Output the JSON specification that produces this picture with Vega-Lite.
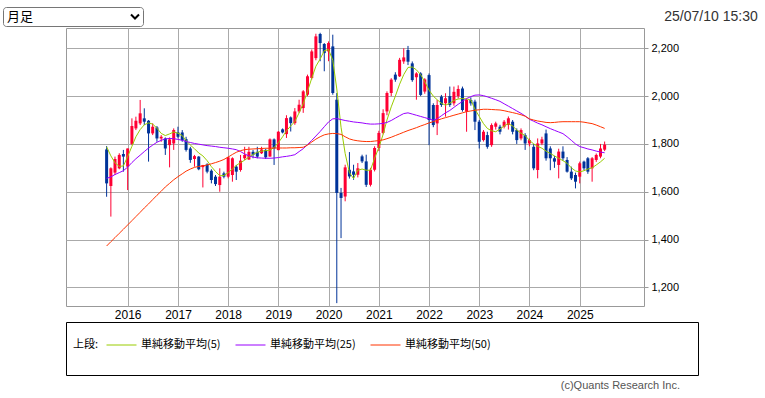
{
"$schema": "https://vega.github.io/schema/vega-lite/v6.json",
"padding": {"left": 2, "top": 6, "right": 0, "bottom": 0},
"background": "white",
"config": {"font": "Liberation Sans", "view": {"stroke": null}},
"datasets": {"px": [
{"d":"2015-08-01","o":1777,"h":1791,"l":1579,"c":1635,"m5":1788,"m25":1656,"m50":1373},
{"d":"2015-09-01","o":1624,"h":1702,"l":1496,"c":1698,"m5":1750,"m25":1662,"m50":1391},
{"d":"2015-10-01","o":1680,"h":1747,"l":1670,"c":1737,"m5":1721,"m25":1672,"m50":1408},
{"d":"2015-11-01","o":1698,"h":1761,"l":1694,"c":1754,"m5":1706,"m25":1680,"m50":1426},
{"d":"2015-12-01","o":1758,"h":1775,"l":1684,"c":1747,"m5":1708,"m25":1688,"m50":1443},
{"d":"2016-01-01","o":1705,"h":1781,"l":1607,"c":1781,"m5":1747,"m25":1703,"m50":1461},
{"d":"2016-02-01","o":1800,"h":1907,"l":1795,"c":1875,"m5":1790,"m25":1722,"m50":1479},
{"d":"2016-03-01","o":1865,"h":1914,"l":1858,"c":1897,"m5":1830,"m25":1738,"m50":1496},
{"d":"2016-04-01","o":1886,"h":1984,"l":1879,"c":1928,"m5":1860,"m25":1753,"m50":1514},
{"d":"2016-05-01","o":1907,"h":1949,"l":1879,"c":1893,"m5":1880,"m25":1768,"m50":1532},
{"d":"2016-06-01","o":1897,"h":1900,"l":1726,"c":1844,"m5":1888,"m25":1783,"m50":1549},
{"d":"2016-07-01","o":1844,"h":1886,"l":1837,"c":1872,"m5":1883,"m25":1795,"m50":1567},
{"d":"2016-08-01","o":1869,"h":1875,"l":1809,"c":1823,"m5":1866,"m25":1807,"m50":1585},
{"d":"2016-09-01","o":1823,"h":1837,"l":1809,"c":1830,"m5":1844,"m25":1815,"m50":1602},
{"d":"2016-10-01","o":1823,"h":1827,"l":1754,"c":1781,"m5":1835,"m25":1821,"m50":1620},
{"d":"2016-11-01","o":1795,"h":1827,"l":1702,"c":1819,"m5":1842,"m25":1823,"m50":1635},
{"d":"2016-12-01","o":1802,"h":1865,"l":1775,"c":1858,"m5":1850,"m25":1822,"m50":1650},
{"d":"2017-01-01","o":1848,"h":1872,"l":1823,"c":1830,"m5":1845,"m25":1819,"m50":1663},
{"d":"2017-02-01","o":1848,"h":1858,"l":1809,"c":1816,"m5":1835,"m25":1815,"m50":1675},
{"d":"2017-03-01","o":1820,"h":1830,"l":1768,"c":1775,"m5":1815,"m25":1810,"m50":1686},
{"d":"2017-04-01","o":1781,"h":1788,"l":1721,"c":1733,"m5":1795,"m25":1806,"m50":1695},
{"d":"2017-05-01","o":1737,"h":1754,"l":1705,"c":1749,"m5":1780,"m25":1802,"m50":1702},
{"d":"2017-06-01","o":1747,"h":1749,"l":1690,"c":1694,"m5":1762,"m25":1799,"m50":1706},
{"d":"2017-07-01","o":1703,"h":1712,"l":1618,"c":1712,"m5":1750,"m25":1796,"m50":1708},
{"d":"2017-08-01","o":1714,"h":1719,"l":1677,"c":1684,"m5":1730,"m25":1793,"m50":1712},
{"d":"2017-09-01","o":1688,"h":1694,"l":1635,"c":1649,"m5":1705,"m25":1791,"m50":1717},
{"d":"2017-10-01","o":1663,"h":1670,"l":1624,"c":1632,"m5":1685,"m25":1789,"m50":1722},
{"d":"2017-11-01","o":1628,"h":1698,"l":1600,"c":1663,"m5":1667,"m25":1786,"m50":1728},
{"d":"2017-12-01","o":1677,"h":1684,"l":1656,"c":1663,"m5":1668,"m25":1784,"m50":1735},
{"d":"2018-01-01","o":1663,"h":1747,"l":1656,"c":1744,"m5":1680,"m25":1782,"m50":1745},
{"d":"2018-02-01","o":1670,"h":1744,"l":1642,"c":1740,"m5":1695,"m25":1779,"m50":1756},
{"d":"2018-03-01","o":1705,"h":1712,"l":1649,"c":1684,"m5":1710,"m25":1776,"m50":1765},
{"d":"2018-04-01","o":1691,"h":1754,"l":1684,"c":1730,"m5":1722,"m25":1768,"m50":1772},
{"d":"2018-05-01","o":1740,"h":1788,"l":1733,"c":1754,"m5":1732,"m25":1758,"m50":1776},
{"d":"2018-06-01","o":1735,"h":1788,"l":1733,"c":1767,"m5":1745,"m25":1750,"m50":1778},
{"d":"2018-07-01","o":1767,"h":1775,"l":1740,"c":1754,"m5":1756,"m25":1745,"m50":1779},
{"d":"2018-08-01","o":1767,"h":1788,"l":1740,"c":1747,"m5":1765,"m25":1742,"m50":1780},
{"d":"2018-09-01","o":1761,"h":1788,"l":1758,"c":1777,"m5":1770,"m25":1741,"m50":1781},
{"d":"2018-10-01","o":1775,"h":1780,"l":1737,"c":1744,"m5":1772,"m25":1740,"m50":1782},
{"d":"2018-11-01","o":1747,"h":1823,"l":1747,"c":1819,"m5":1774,"m25":1740,"m50":1782},
{"d":"2018-12-01","o":1819,"h":1823,"l":1712,"c":1781,"m5":1785,"m25":1741,"m50":1783},
{"d":"2019-01-01","o":1774,"h":1854,"l":1774,"c":1851,"m5":1805,"m25":1743,"m50":1783},
{"d":"2019-02-01","o":1861,"h":1865,"l":1844,"c":1848,"m5":1830,"m25":1746,"m50":1783},
{"d":"2019-03-01","o":1841,"h":1920,"l":1825,"c":1908,"m5":1855,"m25":1748,"m50":1783},
{"d":"2019-04-01","o":1911,"h":1915,"l":1852,"c":1887,"m5":1875,"m25":1751,"m50":1784},
{"d":"2019-05-01","o":1887,"h":1950,"l":1880,"c":1936,"m5":1894,"m25":1755,"m50":1784},
{"d":"2019-06-01","o":1936,"h":1985,"l":1929,"c":1964,"m5":1930,"m25":1768,"m50":1785},
{"d":"2019-07-01","o":1950,"h":2025,"l":1930,"c":2020,"m5":1968,"m25":1780,"m50":1786},
{"d":"2019-08-01","o":2006,"h":2090,"l":2000,"c":2083,"m5":2020,"m25":1797,"m50":1795},
{"d":"2019-09-01","o":2076,"h":2195,"l":2070,"c":2187,"m5":2075,"m25":1815,"m50":1808},
{"d":"2019-10-01","o":2159,"h":2261,"l":2150,"c":2250,"m5":2125,"m25":1833,"m50":1820},
{"d":"2019-11-01","o":2260,"h":2265,"l":2146,"c":2222,"m5":2155,"m25":1852,"m50":1830},
{"d":"2019-12-01","o":2218,"h":2222,"l":2104,"c":2180,"m5":2190,"m25":1872,"m50":1838},
{"d":"2020-01-01","o":2187,"h":2229,"l":2146,"c":2222,"m5":2195,"m25":1892,"m50":1842},
{"d":"2020-02-01","o":2208,"h":2257,"l":2006,"c":2013,"m5":2150,"m25":1905,"m50":1844},
{"d":"2020-03-01","o":1985,"h":2013,"l":1134,"c":1595,"m5":2030,"m25":1906,"m50":1843},
{"d":"2020-04-01","o":1595,"h":1616,"l":1406,"c":1574,"m5":1870,"m25":1902,"m50":1840},
{"d":"2020-05-01","o":1580,"h":1713,"l":1560,"c":1702,"m5":1760,"m25":1898,"m50":1830},
{"d":"2020-06-01","o":1692,"h":1766,"l":1655,"c":1664,"m5":1680,"m25":1895,"m50":1821},
{"d":"2020-07-01","o":1685,"h":1713,"l":1650,"c":1671,"m5":1655,"m25":1892,"m50":1816},
{"d":"2020-08-01","o":1671,"h":1720,"l":1660,"c":1698,"m5":1690,"m25":1890,"m50":1813},
{"d":"2020-09-01","o":1748,"h":1755,"l":1720,"c":1727,"m5":1695,"m25":1888,"m50":1811},
{"d":"2020-10-01","o":1727,"h":1755,"l":1620,"c":1629,"m5":1690,"m25":1885,"m50":1810},
{"d":"2020-11-01","o":1629,"h":1700,"l":1622,"c":1692,"m5":1690,"m25":1883,"m50":1810},
{"d":"2020-12-01","o":1692,"h":1790,"l":1685,"c":1783,"m5":1740,"m25":1883,"m50":1812},
{"d":"2021-01-01","o":1783,"h":1855,"l":1770,"c":1846,"m5":1785,"m25":1884,"m50":1814},
{"d":"2021-02-01","o":1846,"h":1945,"l":1840,"c":1929,"m5":1840,"m25":1886,"m50":1817},
{"d":"2021-03-01","o":1936,"h":2020,"l":1920,"c":2013,"m5":1900,"m25":1890,"m50":1822},
{"d":"2021-04-01","o":2013,"h":2075,"l":2000,"c":2069,"m5":1955,"m25":1898,"m50":1828},
{"d":"2021-05-01","o":2090,"h":2100,"l":2060,"c":2069,"m5":2000,"m25":1908,"m50":1835},
{"d":"2021-06-01","o":2083,"h":2160,"l":2080,"c":2152,"m5":2050,"m25":1918,"m50":1842},
{"d":"2021-07-01","o":2145,"h":2200,"l":2135,"c":2162,"m5":2090,"m25":1927,"m50":1849},
{"d":"2021-08-01","o":2193,"h":2210,"l":2130,"c":2144,"m5":2120,"m25":1930,"m50":1856},
{"d":"2021-09-01","o":2137,"h":2145,"l":2060,"c":2067,"m5":2122,"m25":1925,"m50":1862},
{"d":"2021-10-01","o":2079,"h":2100,"l":1985,"c":2095,"m5":2110,"m25":1920,"m50":1868},
{"d":"2021-11-01","o":2095,"h":2100,"l":2000,"c":2005,"m5":2090,"m25":1915,"m50":1875},
{"d":"2021-12-01","o":2019,"h":2075,"l":2010,"c":2070,"m5":2060,"m25":1910,"m50":1881},
{"d":"2022-01-01","o":2088,"h":2095,"l":1795,"c":1900,"m5":2025,"m25":1905,"m50":1888},
{"d":"2022-02-01","o":1963,"h":1970,"l":1870,"c":1879,"m5":2000,"m25":1899,"m50":1893},
{"d":"2022-03-01","o":1886,"h":1984,"l":1837,"c":1963,"m5":1985,"m25":1905,"m50":1899},
{"d":"2022-04-01","o":1998,"h":2005,"l":1955,"c":1963,"m5":1970,"m25":1918,"m50":1905},
{"d":"2022-05-01","o":1970,"h":2012,"l":1914,"c":1991,"m5":1962,"m25":1930,"m50":1910},
{"d":"2022-06-01","o":2000,"h":2040,"l":1955,"c":1963,"m5":1970,"m25":1940,"m50":1915},
{"d":"2022-07-01","o":1970,"h":2040,"l":1960,"c":2018,"m5":1982,"m25":1953,"m50":1920},
{"d":"2022-08-01","o":2000,"h":2045,"l":1990,"c":2030,"m5":1988,"m25":1966,"m50":1925},
{"d":"2022-09-01","o":2032,"h":2040,"l":1935,"c":1942,"m5":1990,"m25":1978,"m50":1930},
{"d":"2022-10-01","o":1935,"h":1990,"l":1851,"c":1984,"m5":1988,"m25":1990,"m50":1935},
{"d":"2022-11-01","o":1984,"h":1995,"l":1960,"c":1970,"m5":1984,"m25":1998,"m50":1938},
{"d":"2022-12-01","o":1977,"h":1985,"l":1858,"c":1893,"m5":1945,"m25":2004,"m50":1941},
{"d":"2023-01-01","o":1893,"h":1900,"l":1781,"c":1809,"m5":1915,"m25":2005,"m50":1943},
{"d":"2023-02-01","o":1816,"h":1858,"l":1810,"c":1851,"m5":1885,"m25":2002,"m50":1945},
{"d":"2023-03-01","o":1837,"h":1851,"l":1780,"c":1788,"m5":1865,"m25":1997,"m50":1945},
{"d":"2023-04-01","o":1795,"h":1886,"l":1788,"c":1879,"m5":1855,"m25":1991,"m50":1944},
{"d":"2023-05-01","o":1872,"h":1893,"l":1860,"c":1886,"m5":1851,"m25":1985,"m50":1943},
{"d":"2023-06-01","o":1872,"h":1880,"l":1840,"c":1851,"m5":1862,"m25":1978,"m50":1942},
{"d":"2023-07-01","o":1872,"h":1900,"l":1865,"c":1893,"m5":1875,"m25":1968,"m50":1939},
{"d":"2023-08-01","o":1879,"h":1915,"l":1860,"c":1907,"m5":1885,"m25":1958,"m50":1935},
{"d":"2023-09-01","o":1893,"h":1900,"l":1840,"c":1851,"m5":1875,"m25":1948,"m50":1931},
{"d":"2023-10-01","o":1858,"h":1865,"l":1800,"c":1816,"m5":1858,"m25":1938,"m50":1927},
{"d":"2023-11-01","o":1823,"h":1865,"l":1815,"c":1858,"m5":1845,"m25":1928,"m50":1922},
{"d":"2023-12-01","o":1837,"h":1845,"l":1775,"c":1802,"m5":1835,"m25":1917,"m50":1916},
{"d":"2024-01-01","o":1802,"h":1823,"l":1790,"c":1816,"m5":1815,"m25":1903,"m50":1905},
{"d":"2024-02-01","o":1788,"h":1800,"l":1690,"c":1698,"m5":1800,"m25":1895,"m50":1900},
{"d":"2024-03-01","o":1691,"h":1823,"l":1656,"c":1802,"m5":1790,"m25":1887,"m50":1896},
{"d":"2024-04-01","o":1802,"h":1830,"l":1795,"c":1819,"m5":1782,"m25":1880,"m50":1893},
{"d":"2024-05-01","o":1844,"h":1860,"l":1730,"c":1740,"m5":1770,"m25":1872,"m50":1890},
{"d":"2024-06-01","o":1781,"h":1790,"l":1690,"c":1740,"m5":1760,"m25":1864,"m50":1889},
{"d":"2024-07-01","o":1740,"h":1750,"l":1700,"c":1726,"m5":1750,"m25":1857,"m50":1890},
{"d":"2024-08-01","o":1712,"h":1780,"l":1656,"c":1768,"m5":1740,"m25":1850,"m50":1892},
{"d":"2024-09-01","o":1768,"h":1790,"l":1730,"c":1740,"m5":1730,"m25":1843,"m50":1893},
{"d":"2024-10-01","o":1733,"h":1745,"l":1680,"c":1684,"m5":1719,"m25":1830,"m50":1893},
{"d":"2024-11-01","o":1684,"h":1705,"l":1649,"c":1656,"m5":1700,"m25":1815,"m50":1893},
{"d":"2024-12-01","o":1670,"h":1680,"l":1614,"c":1642,"m5":1687,"m25":1800,"m50":1893},
{"d":"2025-01-01","o":1663,"h":1726,"l":1635,"c":1719,"m5":1683,"m25":1789,"m50":1893},
{"d":"2025-02-01","o":1726,"h":1730,"l":1690,"c":1698,"m5":1688,"m25":1784,"m50":1891},
{"d":"2025-03-01","o":1740,"h":1745,"l":1675,"c":1684,"m5":1695,"m25":1779,"m50":1888},
{"d":"2025-04-01","o":1698,"h":1745,"l":1642,"c":1740,"m5":1700,"m25":1775,"m50":1885},
{"d":"2025-05-01","o":1733,"h":1760,"l":1725,"c":1754,"m5":1712,"m25":1770,"m50":1879},
{"d":"2025-06-01","o":1747,"h":1800,"l":1740,"c":1781,"m5":1725,"m25":1766,"m50":1872},
{"d":"2025-07-01","o":1776,"h":1810,"l":1770,"c":1797,"m5":1740,"m25":1763,"m50":1865}
]},
"concat": [
 {"hconcat": [
   {"width": 140, "height": 19,
    "view": {"stroke": "#767676", "strokeWidth": 1, "cornerRadius": 3},
    "layer": [
     {"data": {"values": [{"k": "a", "t": "月足"}]},
      "mark": {"type": "text", "align": "left", "baseline": "middle", "dx": 4, "font": "Noto Sans CJK JP", "fontSize": 13, "color": "#000000"},
      "encoding": {"x": {"field": "k", "type": "nominal", "scale": {"type": "point", "domain": ["a", "b"], "padding": 0}, "axis": null}, "text": {"field": "t"}}},
     {"data": {"values": [{"k": "b"}]},
      "mark": {"type": "point", "shape": "M-3,-0.5L-2,0.5L-1,-0.5", "size": 64, "filled": false, "strokeWidth": 2, "color": "#000000", "opacity": 1},
      "encoding": {"x": {"field": "k", "type": "nominal", "axis": null}}}
    ]},
   {"width": 96, "height": 19,
    "data": {"values": [{"t": "25/07/10 15:30"}]},
    "mark": {"type": "text", "baseline": "middle", "fontSize": 14, "color": "#333333", "font": "Liberation Sans"},
    "encoding": {"text": {"field": "t"}}}
  ], "spacing": 519},
 {"concat": [
   {"hconcat": [
     {"width": 57, "height": 20, "data": {"values": []}, "mark": "text", "encoding": {}},
     {"width": 578, "height": 278,
      "view": {"stroke": "#999999", "strokeWidth": 1},
      "data": {"name": "px"},
      "encoding": {"x": {"field": "d", "type": "temporal", "title": null,
        "scale": {"type": "utc", "domain": [{"year": 2014, "month": 11, "date": 15, "utc": true}, {"year": 2026, "month": 3, "date": 8, "utc": true}]},
        "axis": {"values": [{"year": 2016, "month": 1, "date": 1, "utc": true}, {"year": 2017, "month": 1, "date": 1, "utc": true}, {"year": 2018, "month": 1, "date": 1, "utc": true}, {"year": 2019, "month": 1, "date": 1, "utc": true}, {"year": 2020, "month": 1, "date": 1, "utc": true}, {"year": 2021, "month": 1, "date": 1, "utc": true}, {"year": 2022, "month": 1, "date": 1, "utc": true}, {"year": 2023, "month": 1, "date": 1, "utc": true}, {"year": 2024, "month": 1, "date": 1, "utc": true}, {"year": 2025, "month": 1, "date": 1, "utc": true}],
          "format": "%Y", "ticks": false, "domain": false, "grid": true, "gridColor": "#aaaaaa", "gridWidth": 1, "labelFontSize": 12, "labelColor": "#000000", "labelPadding": 3, "labelFont": "Liberation Sans", "labelFlush": false, "labelOverlap": false}}},
      "layer": [
       {"mark": {"type": "rule", "strokeWidth": 1},
        "encoding": {
          "y": {"field": "l", "type": "quantitative", "title": null,
            "scale": {"domain": [1122, 2285], "nice": false, "zero": false},
            "axis": {"orient": "right", "values": [1200, 1400, 1600, 1800, 2000, 2200], "format": ",d", "tickSize": 4, "tickColor": "#999999", "domain": false, "grid": true, "gridColor": "#aaaaaa", "labelFontSize": 11, "labelColor": "#000000", "labelPadding": 3, "labelFont": "Liberation Sans"}},
          "y2": {"field": "h"},
          "color": {"condition": {"test": "datum.c >= datum.o", "value": "#ff0033"}, "value": "#003399"}}},
       {"mark": {"type": "bar", "size": 3},
        "encoding": {
          "y": {"field": "o", "type": "quantitative", "title": null},
          "y2": {"field": "c"},
          "color": {"condition": {"test": "datum.c >= datum.o", "value": "#ff0033"}, "value": "#003399"}}},
       {"transform": [{"fold": ["m5", "m25", "m50"], "as": ["s", "v"]}],
        "mark": {"type": "line", "strokeWidth": 1},
        "encoding": {
          "y": {"field": "v", "type": "quantitative", "title": null},
          "color": {"field": "s", "type": "nominal",
            "scale": {"domain": ["m5", "m25", "m50"], "range": ["#99cc00", "#9900ff", "#ff3300"]},
            "legend": {"orient": "none", "legendX": 70, "legendY": 331, "direction": "horizontal",
              "title": "上段:", "titleOrient": "left", "titleFont": "Noto Sans CJK JP", "titleFontSize": 11, "titleFontWeight": "normal", "titleColor": "#000000", "titlePadding": 7,
              "symbolType": "stroke", "symbolSize": 900, "symbolStrokeWidth": 1, "clipHeight": 14,
              "labelFont": "Noto Sans CJK JP", "labelFontSize": 11, "labelColor": "#000000", "labelOffset": 4, "labelLimit": 300,
              "columnPadding": 14,
              "labelExpr": "{'m5': '単純移動平均(5)', 'm25': '単純移動平均(25)', 'm50': '単純移動平均(50)'}[datum.value]"}}}}
      ]}
   ], "spacing": 5},
   {"hconcat": [
     {"width": 57, "height": 20, "data": {"values": []}, "mark": "text", "encoding": {}},
     {"width": 632, "height": 53,
      "view": {"stroke": "#000000", "strokeWidth": 1},
      "data": {"values": []}, "mark": "text", "encoding": {},
      "title": {"text": "(c)Quants Research Inc.", "orient": "bottom", "anchor": "end", "frame": "group", "dx": -18, "offset": 5, "fontSize": 11, "fontWeight": "normal", "color": "#555555", "font": "Liberation Sans"}}
   ], "spacing": 5}
 ], "columns": 1, "spacing": 0}
],
"columns": 1,
"spacing": 0
}
